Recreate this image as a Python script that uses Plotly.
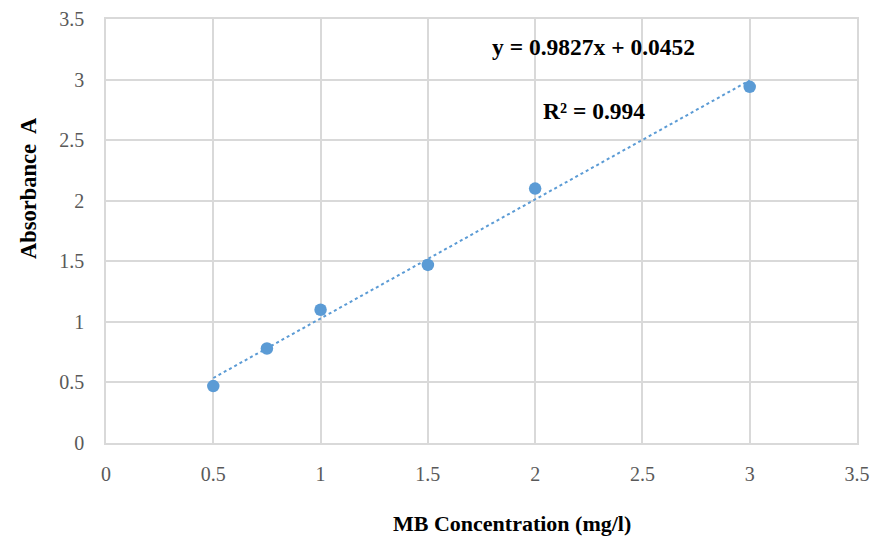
import plotly.graph_objects as go

# Calibration data: methylene blue concentration vs. absorbance
concentration = [0.5, 0.75, 1.0, 1.5, 2.0, 3.0]
absorbance = [0.47, 0.78, 1.10, 1.47, 2.10, 2.94]

# Linear fit reported on the chart
slope = 0.9827
intercept = 0.0452
r_squared = 0.994

x_ticks = [0, 0.5, 1, 1.5, 2, 2.5, 3, 3.5]
y_ticks = [0, 0.5, 1, 1.5, 2, 2.5, 3, 3.5]

fit_x = [min(concentration), max(concentration)]
fit_y = [slope * v + intercept for v in fit_x]

SERIF = "Liberation Serif, Times New Roman, serif"
BLUE = "#5B9BD5"
GRID = "#D9D9D9"

# Plot-area geometry in pixels (used to place the axis titles)
plot_left, plot_top, plot_right, plot_bottom = 106, 19, 857, 443
plot_w = plot_right - plot_left
plot_h = plot_bottom - plot_top

fig = go.Figure()
fig.add_trace(go.Scatter(
    x=fit_x, y=fit_y, mode="lines",
    line=dict(color=BLUE, width=2, dash="dot"),
    hoverinfo="skip", showlegend=False,
))
fig.add_trace(go.Scatter(
    x=concentration, y=absorbance, mode="markers",
    marker=dict(color=BLUE, size=12.5),
    showlegend=False,
))

# Regression equation and coefficient of determination
fig.add_annotation(
    x=2.274, y=3.27, xref="x", yref="y",
    text=f"<b>y = {slope}x + {intercept}</b>",
    showarrow=False, font=dict(family=SERIF, size=23.5, color="black"),
)
fig.add_annotation(
    x=2.274, y=2.74, xref="x", yref="y",
    text=f"<b>R² = {r_squared}</b>",
    showarrow=False, font=dict(family=SERIF, size=23.5, color="black"),
)

# Axis titles
fig.add_annotation(
    x=(512 - plot_left) / plot_w, y=(plot_bottom - 523) / plot_h,
    xref="paper", yref="paper", xanchor="center", yanchor="middle",
    text="<b>MB Concentration (mg/l)</b>", showarrow=False,
    font=dict(family=SERIF, size=22, color="black"),
)
fig.add_annotation(
    x=(28 - plot_left) / plot_w, y=(plot_bottom - 188) / plot_h,
    xref="paper", yref="paper", xanchor="center", yanchor="middle",
    text="<b>Absorbance  A</b>", showarrow=False, textangle=-90,
    font=dict(family=SERIF, size=22.5, color="black"),
)

fig.update_layout(
    width=886, height=539,
    margin=dict(l=plot_left, r=886 - plot_right, t=plot_top,
                b=539 - plot_bottom, autoexpand=False),
    paper_bgcolor="white", plot_bgcolor="white",
    font=dict(family=SERIF, color="#595959", size=20),
    xaxis=dict(
        range=[0, 3.5], tickvals=x_ticks,
        ticktext=[f"{v:g}" for v in x_ticks],
        showgrid=True, gridcolor=GRID, gridwidth=1.5,
        zeroline=False, showline=True, linecolor=GRID, linewidth=1.5,
        mirror=True, ticks="", ticklabelstandoff=12, automargin=False,
    ),
    yaxis=dict(
        range=[0, 3.5], tickvals=y_ticks,
        ticktext=[f"{v:g}" for v in y_ticks],
        showgrid=True, gridcolor=GRID, gridwidth=1.5,
        zeroline=False, showline=True, linecolor=GRID, linewidth=1.5,
        mirror=True, ticks="", ticklabelstandoff=16, automargin=False,
    ),
)

fig.write_html("out.html")
